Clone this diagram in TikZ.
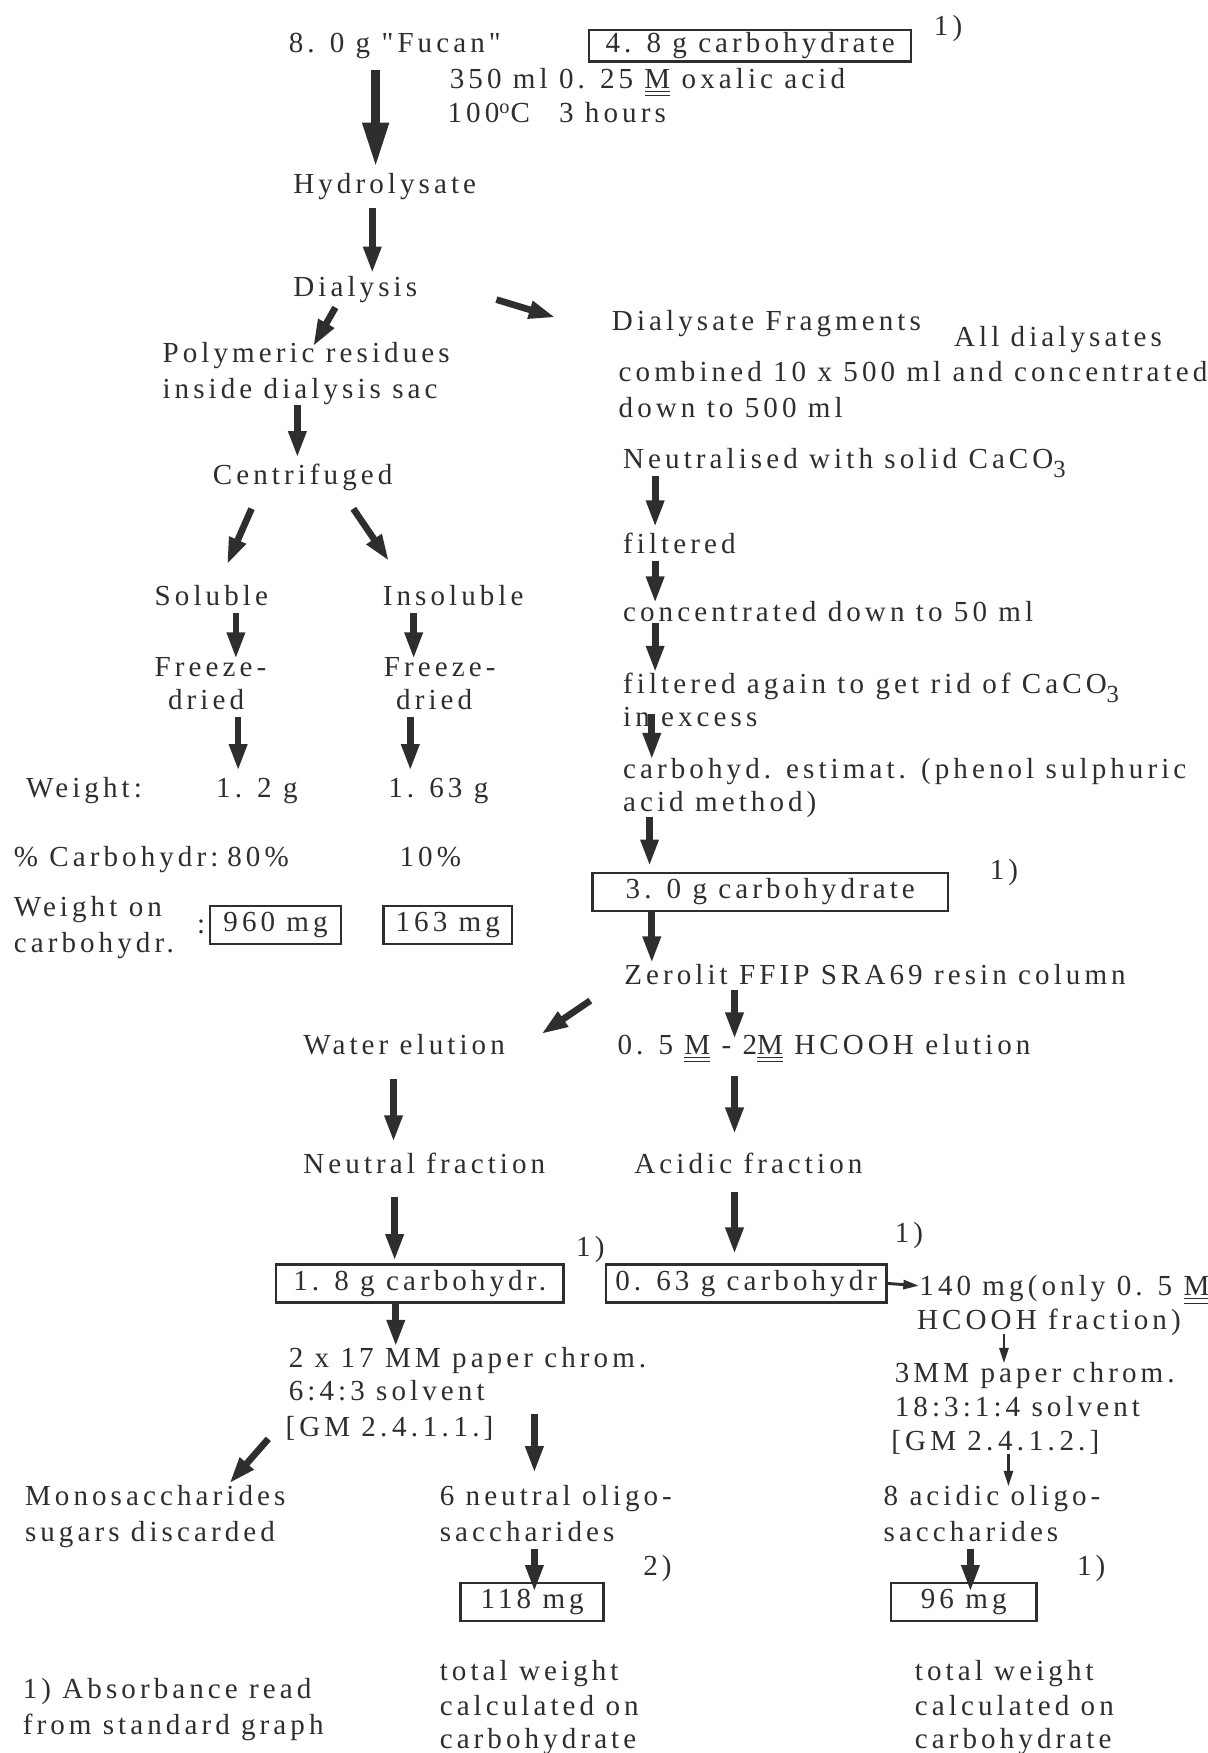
\documentclass[tikz,border=0pt]{standalone}
\usepackage{fontspec}
\newfontfamily\typefont[LetterSpace=14]{Liberation Serif}
\usepackage{tikz}
\usetikzlibrary{arrows.meta,calc}

\newcommand{\dM}{\underline{\underline{M}}}
\newcommand{\sub}[1]{\raisebox{-4pt}{\fontsize{11}{12}\selectfont #1}}

\begin{document}
\begin{tikzpicture}[x=0.5pt,y=-0.5pt,color=black!82,
    txt/.style={anchor=base west, inner sep=0pt, text height=9pt, text depth=3pt,
        font=\typefont\fontsize{13}{15.5}\selectfont},
    valbox/.style={draw, line width=1.1pt, inner sep=0pt, minimum height=17pt,
        text height=9pt, text depth=3pt, font=\typefont\fontsize{13}{15.5}\selectfont},
    flow/.style={line width=3pt, -{Triangle[length=12pt,width=7.5pt]}},
    thinflow/.style={line width=1.3pt, -{Triangle[length=7pt,width=4pt]}}]
    \useasboundingbox (0,0) rectangle (1080,1568);

    % top: hydrolysis
    \node[txt] (fucan) at (258,47) {8. 0 g "Fucan"};
    \node[valbox, minimum width=144pt, minimum height=14pt] (carbA) at (671,41) {4. 8 g carbohydrate};
    \node[txt] (noteA) at (835,32) {1)};
    \node[txt] (oxalic) at (402,79) {350 ml 0. 25 \dM\ oxalic acid};
    \node[txt] (temp) at (400,110) {100\textsuperscript{o}C\quad 3 hours};
    \node[txt] (hydro) at (262,173) {Hydrolysate};
    \node[txt] (dialysis) at (262,265) {Dialysis};

    % left branch
    \node[txt] (polyA) at (145,324) {Polymeric residues};
    \node[txt] (polyB) at (145,356) {inside dialysis sac};
    \node[txt] (centri) at (190,433) {Centrifuged};
    \node[txt] (sol) at (138,542) {Soluble};
    \node[txt] (insol) at (342,542) {Insoluble};
    \node[txt] (frzA) at (138,605) {Freeze-};
    \node[txt] (dryA) at (150,635) {dried};
    \node[txt] (frzB) at (343,605) {Freeze-};
    \node[txt] (dryB) at (354,635) {dried};
    \node[txt] (wlbl) at (23,713) {Weight:};
    \node[txt] (wA) at (193,713) {1. 2 g};
    \node[txt] (wB) at (347,713) {1. 63 g};
    \node[txt] (plbl) at (12,775) {\% Carbohydr:};
    \node[txt] (pA) at (203,775) {80\%};
    \node[txt] (pB) at (357,775) {10\%};
    \node[txt] (wonA) at (12,820) {Weight on};
    \node[txt] (wonB) at (12,852) {carbohydr.};
    \node[txt] (colon) at (176,835) {:};
    \node[valbox, minimum width=58.5pt] (mgA) at (246.5,827.5) {960 mg};
    \node[valbox, minimum width=57.5pt] (mgB) at (400.5,827.5) {163 mg};

    % right branch
    \node[txt] (dfrag) at (547,296) {Dialysate Fragments};
    \node[txt] (alld) at (853,310) {All dialysates};
    \node[txt] (comb) at (553,341) {combined 10 x 500 ml and concentrated};
    \node[txt] (downto) at (553,373) {down to 500 ml};
    \node[txt] (neut) at (557,419) {Neutralised with solid CaCO\sub{3}};
    \node[txt] (filt) at (557,495) {filtered};
    \node[txt] (conc) at (557,556) {concentrated down to 50 ml};
    \node[txt] (filtB) at (557,620) {filtered again to get rid of CaCO\sub{3}};
    \node[txt] (excess) at (557,650) {in excess};
    \node[txt] (estA) at (557,696) {carbohyd. estimat. (phenol sulphuric};
    \node[txt] (estB) at (557,726) {acid method)};
    \node[valbox, minimum width=159pt] (carbB) at (689,798) {3. 0 g carbohydrate};
    \node[txt] (noteB) at (885,787) {1)};
    \node[txt] (zerolit) at (558,881) {Zerolit FFIP SRA69 resin column};
    \node[txt] (water) at (271,943) {Water elution};
    \node[txt] (formic) at (552,943) {0. 5 \dM\ - 2\dM\ HCOOH elution};
    \node[txt] (neutr) at (271,1050) {Neutral fraction};
    \node[txt] (acid) at (567,1050) {Acidic fraction};
    \node[txt] (noteC) at (515,1124) {1)};
    \node[txt] (noteD) at (800,1111) {1)};
    \node[valbox, minimum width=128.5pt] (carbC) at (375.5,1148) {1. 8 g carbohydr.};
    \node[valbox, minimum width=125.5pt] (carbD) at (667.5,1148) {0. 63 g carbohydr};
    \node[txt] (mgC) at (822,1159) {140 mg(only 0. 5 \dM};
    \node[txt] (fracC) at (820,1189) {HCOOH fraction)};

    % paper chromatography
    \node[txt] (chrA) at (258,1223) {2 x 17 MM paper chrom.};
    \node[txt] (solvA) at (258,1253) {6:4:3 solvent};
    \node[txt] (gmA) at (255,1285) {[GM 2.\,4.\,1.\,1.]};
    \node[txt] (chrB) at (800,1237) {3MM paper chrom.};
    \node[txt] (solvB) at (800,1267) {18:3:1:4 solvent};
    \node[txt] (gmB) at (797,1297) {[GM 2.\,4.\,1.\,2.]};
    \node[txt] (monoA) at (22,1347) {Monosaccharides};
    \node[txt] (monoB) at (22,1379) {sugars discarded};
    \node[txt] (nolA) at (393,1347) {6 neutral oligo-};
    \node[txt] (nolB) at (393,1379) {saccharides};
    \node[txt] (aolA) at (790,1347) {8 acidic oligo-};
    \node[txt] (aolB) at (790,1379) {saccharides};
    \node[valbox, minimum width=64pt] (mgD) at (476,1433) {118 mg};
    \node[txt] (noteE) at (575,1409) {2)};
    \node[valbox, minimum width=65pt] (mgE) at (862,1433) {96 mg};
    \node[txt] (noteF) at (963,1409) {1)};

    % footer
    \node[txt] (totA) at (393,1503) {total weight};
    \node[txt] (calcA) at (393,1534) {calculated on};
    \node[txt] (cbA) at (393,1564) {carbohydrate};
    \node[txt] (absA) at (20,1519) {1) Absorbance read};
    \node[txt] (absB) at (20,1551) {from standard graph};
    \node[txt] (totB) at (818,1503) {total weight};
    \node[txt] (calcB) at (818,1534) {calculated on};
    \node[txt] (cbB) at (818,1564) {carbohydrate};

    % arrows
    \draw[flow, line width=4pt, -{Triangle[length=20pt,width=11pt]}, shorten <=4.5pt, shorten >=2.5pt]
        (fucan.south -| 336,0) -- (hydro.north -| 336,0);
    \draw[flow, shorten <=3.5pt, shorten >=1pt] (hydro.south -| 333,0) -- (dialysis.north -| 333,0);
    \draw[flow] ($(dialysis.base west)+(38,10)$) -- ($(polyA.base west)+(135,-14)$);
    \draw[flow] ($(dialysis.base west)+(182,3)$) -- ($(dfrag.base west)+(-50,-12)$);
    \draw[flow, shorten >=2.5pt] (polyB.south -| 266,0) -- (centri.north -| 266,0);
    \draw[flow] ($(centri.base west)+(35,22)$) -- ($(sol.base west)+(65,-37)$);
    \draw[flow] ($(centri.base west)+(126,22)$) -- ($(insol.base west)+(6,-40)$);
    \draw[flow, shorten >=-1.5pt] (sol.south -| 211,0) -- (frzA.north -| 211,0);
    \draw[flow, shorten >=-1.5pt] (insol.south -| 370,0) -- (frzB.north -| 370,0);
    \draw[flow, shorten >=2.5pt] (dryA.south -| 213,0) -- (wA.north -| 213,0);
    \draw[flow, shorten >=2.5pt] (dryB.south -| 367,0) -- (wB.north -| 367,0);

    \draw[flow, shorten >=2.5pt] (neut.south -| 586,0) -- (filt.north -| 586,0);
    \draw[flow, shorten >=-1pt] (filt.south -| 586,0) -- (conc.north -| 586,0);
    \draw[flow, shorten <=-2.5pt] (conc.south -| 586,0) -- (filtB.north -| 586,0);
    \draw[flow, shorten <=-9pt, shorten >=-1pt] (excess.south -| 583,0) -- (estA.north -| 583,0);
    \draw[flow, shorten <=-1pt, shorten >=2.5pt] (estB.south -| 581,0) -- (carbB.north -| 581,0);
    \draw[flow, shorten >=0.5pt] (carbB.south -| 583,0) -- (zerolit.north -| 583,0);
    \draw[flow] ($(zerolit.base west)+(-30,14)$) -- ($(water.base west)+(213,-18)$);
    \draw[flow, shorten <=-1pt, shorten >=-2.5pt] (zerolit.south -| 657,0) -- (formic.north -| 657,0);
    \draw[flow, shorten <=8pt, shorten >=5pt] (water.south -| 352,0) -- (neutr.north -| 352,0);
    \draw[flow, shorten <=6.5pt, shorten >=8.5pt] (formic.south -| 657,0) -- (acid.north -| 657,0);
    \draw[flow, shorten <=7pt, shorten >=1pt] (neutr.south -| 353,0) -- (carbC.north -| 353,0);
    \draw[flow, shorten <=5pt, shorten >=4pt] (acid.south -| 657,0) -- (carbD.north -| 657,0);
    \draw[thinflow] (carbD.east) -- ($(mgC.base west)+(0,-9)$);
    \draw[flow] (carbC.south -| 354,0) -- (chrA.north -| 354,0);

    \draw[flow] ($(gmA.base west)+(-15,2)$) -- ($(monoA.base west)+(183,-20)$);
    \draw[flow, shorten <=-1pt, shorten >=5.5pt] (gmA.north -| 478,0) -- (nolA.north -| 478,0);
    \draw[thinflow, shorten <=-1pt, shorten >=-0.5pt] (fracC.south -| 898,0) -- (chrB.north -| 898,0);
    \draw[thinflow, shorten <=-1.5pt, shorten >=-0.5pt] (gmB.south -| 902,0) -- (aolA.north -| 902,0);
    \draw[flow, shorten >=-4.5pt] (nolB.south -| 478,0) -- (mgD.north -| 478,0);
    \draw[flow, shorten >=-4.5pt] (aolB.south -| 868,0) -- (mgE.north -| 868,0);
\end{tikzpicture}
\end{document}
